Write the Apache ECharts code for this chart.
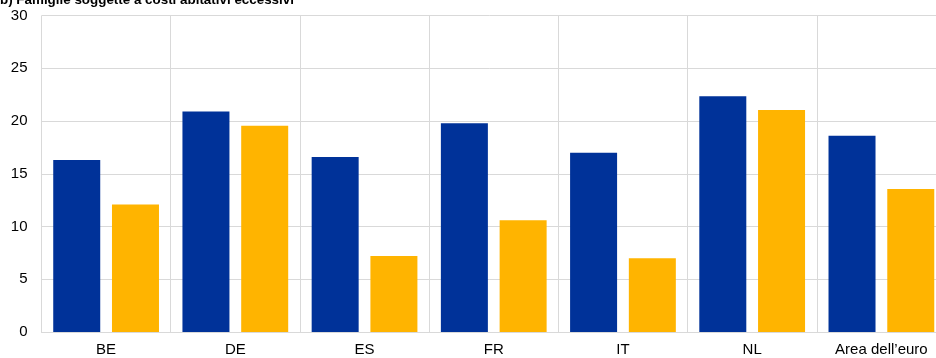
<!DOCTYPE html>
<html><head><meta charset="utf-8">
<script src="https://cdn.jsdelivr.net/npm/echarts@6/dist/echarts.min.js"></script>
<style>html,body{margin:0;padding:0;background:#fff}#c{width:936px;height:358px}</style>
</head><body><div id="c"></div>
<script>
const categories = ['BE', 'DE', 'ES', 'FR', 'IT', 'NL', 'Area dell\u2019euro'];
const seriesA = [16.3, 20.9, 16.6, 19.8, 17.0, 22.35, 18.6];
const seriesB = [12.1, 19.55, 7.2, 10.6, 7.0, 21.05, 13.55];
const yTicks = [0, 5, 10, 15, 20, 25, 30];
const titleText = 'b) Famiglie soggette a costi abitativi eccessivi';

const chart = echarts.init(document.getElementById('c'));
chart.setOption({
  animation: false,
  textStyle: { fontFamily: 'Liberation Sans, Arial, sans-serif' },
  title: { text: titleText, left: -5, top: -11,
    textStyle: { fontSize: 13.4, fontWeight: 'bold', color: '#000', fontFamily: 'Liberation Sans, Arial, sans-serif' } },
  grid: { left: 41.5, top: 15.6, bottom: 26, right: -10, outerBoundsMode: 'none', containLabel: false },
  xAxis: {
    type: 'category', data: categories,
    axisLine: { lineStyle: { color: '#d9d9d9' } },
    axisTick: { show: false },
    axisLabel: { color: '#000', fontSize: 15, margin: 10, interval: 0 },
    splitLine: { show: true, lineStyle: { color: '#d9d9d9', width: 1 } }
  },
  yAxis: {
    type: 'value', min: yTicks[0], max: yTicks[yTicks.length - 1], interval: 5,
    axisLine: { show: false }, axisTick: { show: false },
    axisLabel: { color: '#000', fontSize: 15, margin: 14 },
    splitLine: { lineStyle: { color: '#d9d9d9', width: 1 } }
  },
  series: [
    { type: 'bar', data: seriesA, barWidth: 47, barGap: '25%', itemStyle: { color: '#003299' } },
    { type: 'bar', data: seriesB, barWidth: 47, itemStyle: { color: '#FFB400' } }
  ]
});
</script></body></html>
